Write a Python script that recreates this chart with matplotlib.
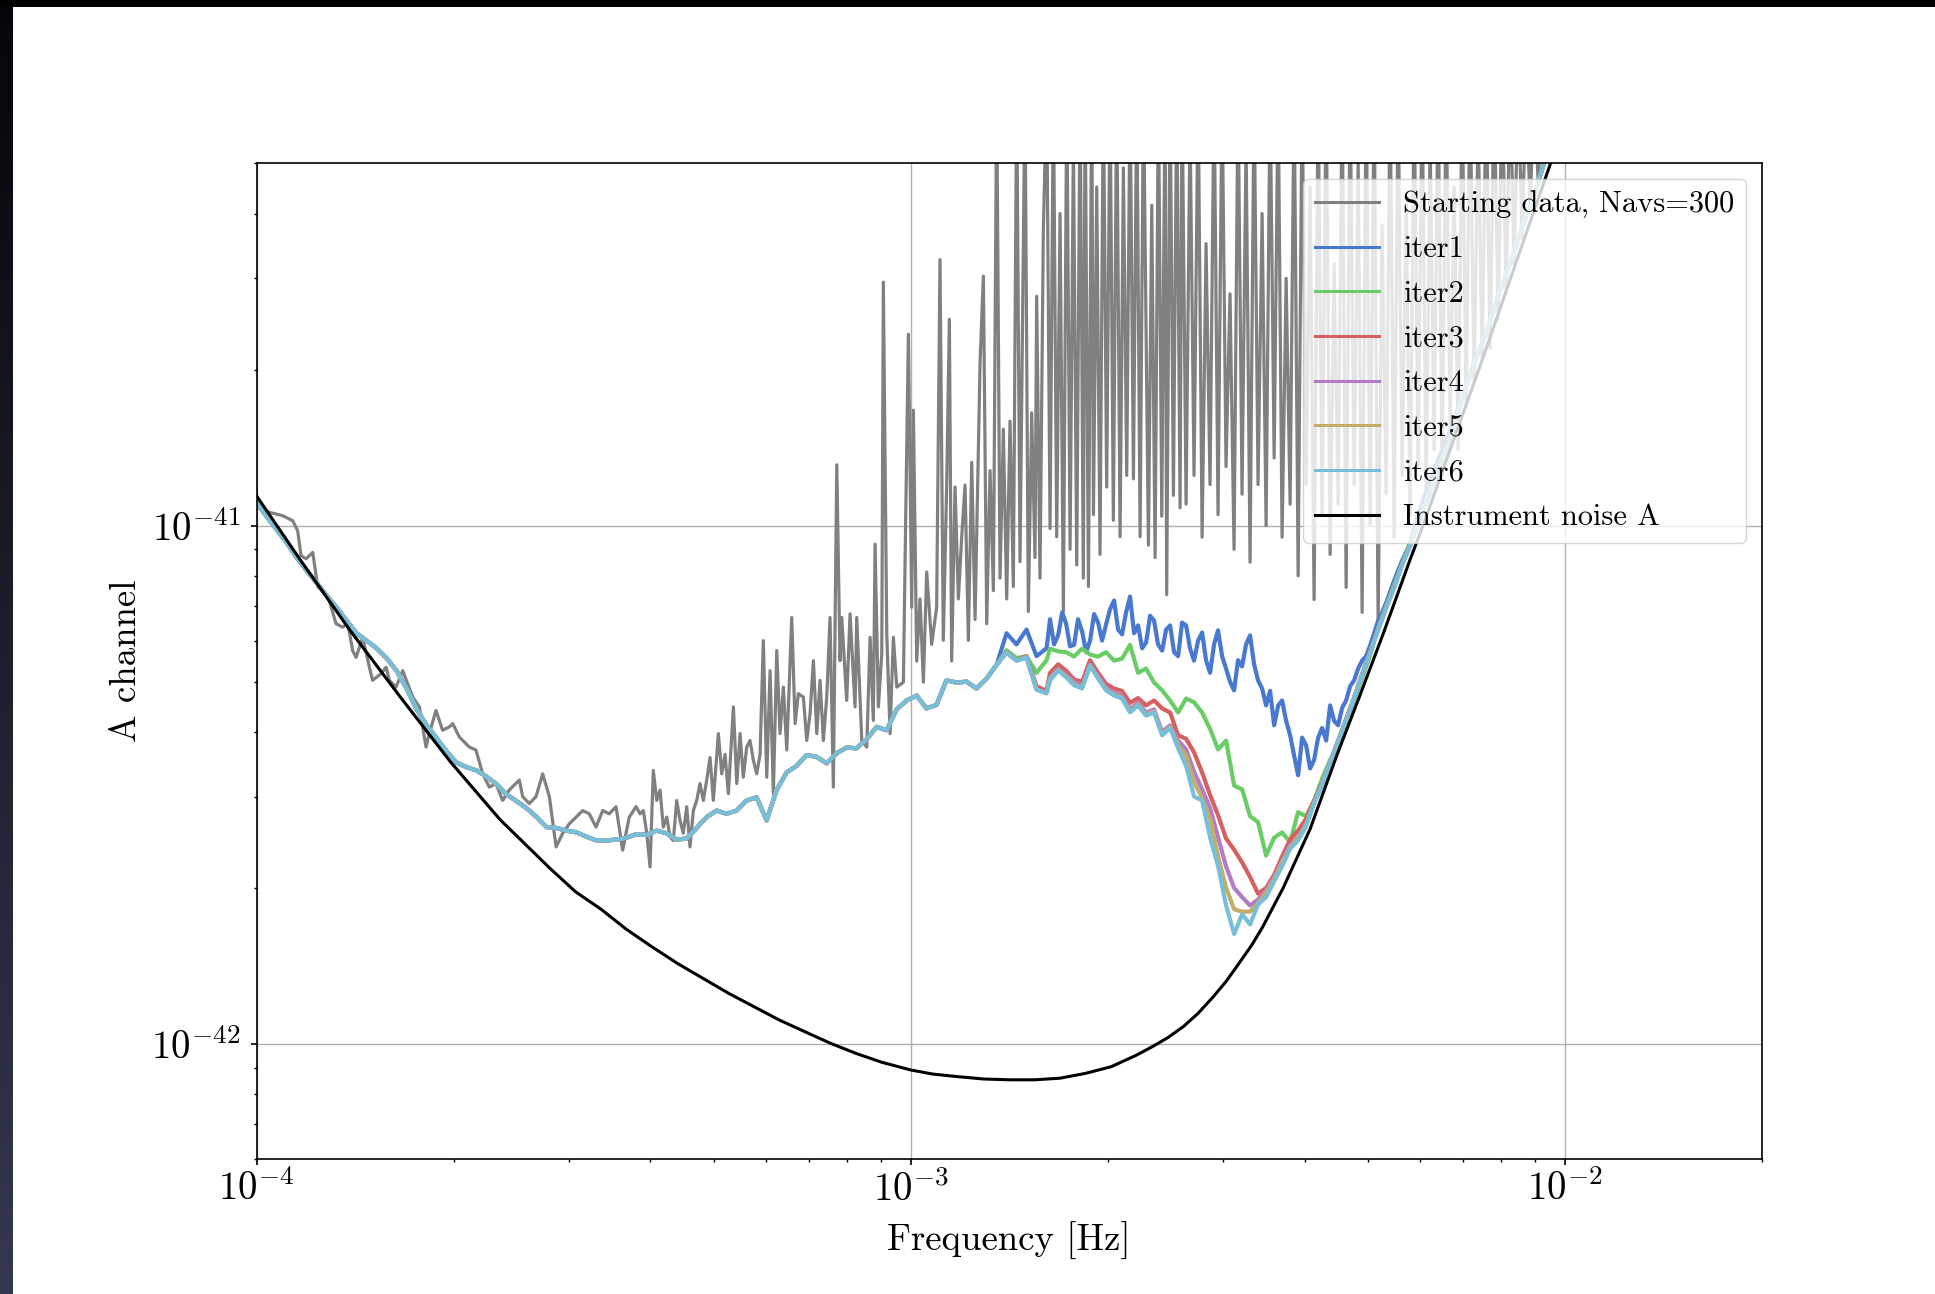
import numpy as np
import matplotlib
matplotlib.use("Agg")
import matplotlib.pyplot as plt
from matplotlib.ticker import FixedLocator, FuncFormatter, NullFormatter
from matplotlib.patches import Rectangle

plt.rcParams['font.family'] = 'serif'
plt.rcParams['font.serif'] = ['cmr10']
plt.rcParams['mathtext.fontset'] = 'cm'
plt.rcParams['axes.formatter.use_mathtext'] = True

PSD_UNIT = 1e-42   # all PSD lists below are in units of 1e-42

# ---------------- Instrument noise A (black) ----------------
noise_f = [1.0e-4, 1.165e-4, 1.389e-4, 1.656e-4, 1.975e-4, 2.355e-4, 2.81e-4, 3.073e-4, 3.36e-4, 3.673e-4,
           4.02e-4, 4.40e-4, 4.81e-4, 5.27e-4, 5.76e-4, 6.30e-4, 6.89e-4, 7.54e-4, 8.25e-4, 9.03e-4,
           1.0e-3, 1.08e-3, 1.18e-3, 1.293e-3, 1.416e-3, 1.547e-3, 1.69e-3, 1.852e-3, 2.025e-3, 2.215e-3,
           2.34e-3, 2.47e-3, 2.61e-3, 2.75e-3, 2.90e-3, 3.034e-3, 3.15e-3, 3.32e-3, 3.45e-3, 3.71e-3,
           4.08e-3, 4.48e-3, 4.86e-3, 5.28e-3, 5.80e-3, 6.07e-3, 7.49e-3, 9.5e-3, 1.1e-2]
noise_S = [11.4, 8.60, 6.28, 4.68, 3.51, 2.71, 2.18, 1.966, 1.82, 1.665,
           1.54, 1.43, 1.339, 1.252, 1.18, 1.112, 1.056, 1.003, 0.959, 0.922,
           0.891, 0.875, 0.865, 0.856, 0.853, 0.853, 0.859, 0.878, 0.904, 0.952,
           0.988, 1.028, 1.08, 1.146, 1.233, 1.32, 1.41, 1.55, 1.68, 2.0,
           2.60, 3.60, 4.70, 6.2, 8.6, 10.0, 21.0, 49.8, 85.0]

# ---------------- Starting data (gray) ----------------
gray_f_a = [1.000, 1.045, 1.096, 1.135, 1.155, 1.169, 1.190, 1.218, 1.240, 1.262,
            1.291, 1.322, 1.353, 1.378, 1.402, 1.419, 1.452, 1.487, 1.504, 1.549,
            1.577, 1.596, 1.633, 1.672, 1.732, 1.773, 1.815, 1.836, 1.880, 1.924,
            1.970, 1.994, 2.041, 2.114, 2.164, 2.216, 2.268, 2.322, 2.377, 2.433,
            2.521, 2.551, 2.611, 2.673, 2.737, 2.802, 2.869, 2.937, 3.006, 3.078,
            3.151, 3.225, 3.302, 3.381, 3.460, 3.543, 3.627, 3.712, 3.802]  # x1e-4 Hz
gray_S_a = [10.85, 10.61, 10.45, 10.22, 9.78, 8.75, 8.63, 8.88, 7.61, 7.49,
            7.17, 6.47, 6.37, 6.47, 5.74, 5.57, 6.09, 5.33, 5.03, 5.18,
            5.33, 5.03, 4.88, 5.25, 4.67, 4.47, 3.74, 3.97, 4.40, 4.03,
            4.09, 4.15, 3.91, 3.74, 3.69, 3.32, 3.13, 3.18, 2.95, 3.09,
            3.23, 3.00, 2.91, 3.00, 3.32, 3.00, 2.40, 2.55, 2.66, 2.74,
            2.82, 2.78, 2.62, 2.82, 2.78, 2.87, 2.365, 2.74, 2.87]

gray_f_b = [3.856, 3.901, 3.948, 3.994, 4.040, 4.089, 4.137, 4.185, 4.236, 4.285,
            4.335, 4.387, 4.438, 4.490, 4.544, 4.597, 4.651, 4.707, 4.762, 4.818,
            4.876, 4.933, 4.991, 5.080, 5.140, 5.201, 5.262, 5.356, 5.420, 5.483,
            5.546, 5.613, 5.679, 5.745, 5.814, 5.883, 5.951, 6.023, 6.094, 6.165,
            6.239, 6.311, 6.386, 6.463, 6.577, 6.655, 6.732, 6.852, 6.934, 7.015,
            7.098, 7.183, 7.266, 7.352, 7.440, 7.526, 7.615, 7.707, 7.796, 7.843,
            7.981, 8.076, 8.219, 8.268, 8.416, 8.565, 8.666, 8.766, 8.819, 8.923,
            9.030, 9.080, 9.190, 9.297, 9.406, 9.519]  # x1e-4 Hz
gray_S_b = [2.78, 2.82, 2.55, 2.196, 3.37, 2.95, 3.09, 2.62, 2.74, 2.51,
            2.47, 2.95, 2.70, 2.55, 2.87, 2.40, 2.82, 2.95, 3.18, 2.95,
            3.23, 3.57, 2.95, 3.97, 3.32, 3.62, 3.04, 4.47, 3.18, 3.97,
            3.27, 3.74, 3.85, 3.53, 3.32, 3.62, 6.00, 3.27, 5.25, 3.04,
            5.74, 3.97, 4.88, 3.69, 6.65, 4.15, 4.74, 4.67, 3.85, 4.33,
            5.49, 3.97, 5.03, 3.85, 4.67, 6.65, 3.13, 13.1, 5.49, 6.65,
            4.60, 6.76, 4.47, 6.65, 3.85, 3.74, 6.09, 4.21, 9.21, 4.47,
            5.66, 29.5, 6.19, 3.97, 6.09, 4.88]

gray_f_c = [0.9744, 0.9802, 0.9917, 1.0034, 1.0093, 1.0212, 1.0332, 1.0454, 1.0577, 1.0764,
            1.0955, 1.1084, 1.1215, 1.1350, 1.1456, 1.1550, 1.1687, 1.1825, 1.1965, 1.2106,
            1.2249, 1.2394, 1.2540, 1.2763, 1.2913, 1.3066, 1.3220, 1.3376, 1.3533, 1.3693,
            1.3854, 1.4017, 1.4183, 1.4350, 1.4520, 1.4691, 1.4951, 1.5128, 1.5307, 1.5487,
            1.5578, 1.5762, 1.5948, 1.6136, 1.6330, 1.6522, 1.6717, 1.6915, 1.7114, 1.7320,
            1.7522, 1.7729, 1.7938, 1.8150, 1.8360, 1.8474, 1.8691, 1.8912, 1.9024, 1.9248,
            1.9470, 1.9700, 1.9933, 2.0168, 2.0406, 2.0650, 2.0894, 2.1140, 2.1390, 2.1642,
            2.1900, 2.2159, 2.2421, 2.2685, 2.3088, 2.3360, 2.3636, 2.3915, 2.4197, 2.4482,
            2.4620, 2.4917, 2.5211, 2.5508, 2.5808]  # x1e-3 Hz
gray_S_c = [4.99, 8.52, 23.4, 6.96, 16.7, 5.48, 7.22, 4.99, 8.14, 5.90,
            6.96, 32.6, 6.01, 12.09, 25.0, 5.48, 11.87, 7.22, 9.52, 11.98,
            6.01, 13.25, 6.59, 20.6, 30.3, 6.47, 12.77, 7.49, 70.0, 7.92,
            15.35, 7.22, 15.9, 7.63, 70.0, 8.52, 70.0, 6.83, 16.5, 8.68,
            27.7, 7.92, 37.1, 70.0, 9.87, 70.0, 9.52, 40.0, 6.83, 70.0,
            9.0, 55.0, 8.4, 70.0, 7.92, 70.0, 7.63, 70.0, 10.5, 45.0,
            8.8, 70.0, 11.87, 70.0, 10.24, 70.0, 9.52, 49.0, 12.5, 70.0,
            12.31, 70.0, 9.52, 70.0, 9.17, 41.5, 8.68, 70.0, 10.43, 70.0,
            7.36, 70.0, 11.44, 70.0, 10.82]

gray_f_d = [2.599, 2.636, 2.673, 2.711, 2.750, 2.789, 2.828, 2.868, 2.909, 2.950,
            2.992, 3.034, 3.077, 3.121, 3.165, 3.210, 3.256, 3.302, 3.349, 3.396,
            3.445, 3.494, 3.543, 3.594, 3.645, 3.696, 3.749, 3.802, 3.856, 3.911,
            3.966, 4.022, 4.079, 4.137, 4.196, 4.255, 4.316, 4.377, 4.439, 4.502,
            4.566, 4.631, 4.696, 4.763, 4.831, 4.899, 4.969, 5.039, 5.111, 5.183,
            5.256, 5.331, 5.406, 5.483, 5.561, 5.640, 5.720, 5.801, 5.883, 5.966,
            6.051, 6.137, 6.224, 6.312, 6.402, 6.493, 6.585, 6.678, 6.773, 6.869,
            6.966, 7.065, 7.165, 7.267, 7.370, 7.475, 7.580, 7.688, 7.797, 7.908,
            8.020, 8.134, 8.249, 8.366, 8.485, 8.605, 8.727, 8.851, 8.977, 9.104,
            9.233, 9.364]  # x1e-3 Hz
gray_S_d = [70, 11, 60, 12.5, 70, 9.5, 35, 12, 70, 10.5,
            70, 13, 28, 9, 70, 11.5, 55, 8.5, 70, 12,
            40, 10, 70, 13.5, 70, 9.5, 30, 11, 70, 8,
            70, 12, 45, 7.2, 70, 10.5, 70, 8.8, 32, 11,
            70, 7.6, 70, 12, 50, 6.8, 70, 10, 70, 6.5,
            38, 11.5, 70, 9.5, 70, 12.5, 42, 10.5, 70, 13,
            70, 11.5, 55, 14, 70, 12.5, 70, 15.5, 45, 14,
            70, 17, 70, 19, 60, 21, 70, 22, 70, 25,
            70, 28, 70, 32, 70, 36, 70, 41, 70, 46,
            70, 55]

# ---------------- Iterations ----------------
freq_lo = [1.000, 1.036, 1.073, 1.111, 1.151, 1.192, 1.235, 1.279, 1.325, 1.372,
           1.421, 1.472, 1.525, 1.580, 1.636, 1.695, 1.756, 1.819, 1.884, 1.951,
           2.021, 2.094, 2.169, 2.246, 2.327, 2.410, 2.497, 2.586, 2.679, 2.775,
           2.874, 2.977, 3.084, 3.194, 3.309, 3.427, 3.550, 3.677, 3.809, 3.946,
           4.087, 4.233, 4.385, 4.542, 4.705, 4.874, 5.048, 5.229, 5.417, 5.611,
           5.812, 6.020, 6.236, 6.459, 6.691, 6.930, 7.179, 7.436, 7.703, 7.979,
           8.265, 8.561, 8.868, 9.185, 9.514, 9.855, 10.21, 10.57, 10.95, 11.34,
           11.75, 12.17, 12.61, 13.06, 13.53, 14.01, 14.51, 15.03, 15.57, 16.13]  # x1e-4 Hz
iter_low = [11.07, 10.41, 9.82, 9.27, 8.68, 8.19, 7.76, 7.33, 6.95, 6.56,
            6.20, 6.00, 5.80, 5.55, 5.25, 4.85, 4.42, 4.12, 3.89, 3.67,
            3.49, 3.42, 3.37, 3.28, 3.17, 3.03, 2.94, 2.85, 2.74, 2.62,
            2.61, 2.58, 2.56, 2.51, 2.47, 2.47, 2.48, 2.50, 2.54, 2.53,
            2.58, 2.55, 2.48, 2.49, 2.61, 2.74, 2.82, 2.78, 2.82, 2.95,
            2.99, 2.70, 3.09, 3.34, 3.44, 3.61, 3.58, 3.48, 3.64, 3.73,
            3.72, 3.87, 4.09, 4.03, 4.42, 4.60, 4.70, 4.44, 4.51, 5.03,
            4.98, 5.00, 4.85, 5.07, 5.39, 5.69, 5.49, 5.57, 4.83, 4.75]
iter1_knee = [6.2, 5.9, 6.3, 5.6, 5.8]
iter2_knee = [5.75, 5.55, 5.6, 5.2, 5.5]
iter3_knee = [5.7, 5.5, 5.6, 4.9, 4.8]

# 8-px grid (iter2..iter6) in the 1.6e-3 .. 6.7e-3 Hz range
freq_mid = [1.633, 1.680, 1.728, 1.777, 1.828, 1.880, 1.934, 1.989, 2.046, 2.104,
            2.164, 2.226, 2.290, 2.355, 2.423, 2.492, 2.563, 2.636, 2.712, 2.789,
            2.869, 2.951, 3.035, 3.122, 3.211, 3.302, 3.396, 3.494, 3.594, 3.696,
            3.802, 3.910, 4.022, 4.137, 4.255, 4.377, 4.502, 4.630, 4.763, 4.898,
            5.039, 5.182, 5.330, 5.483, 5.639, 5.800, 5.966, 6.136, 6.312, 6.492,
            6.678]  # x1e-3 Hz
# finer grid for iter1 (first part; continues with gray_f_d[:68])
freq_fine_a = [1.633, 1.656, 1.680, 1.704, 1.728, 1.752, 1.777, 1.802, 1.828, 1.854,
               1.880, 1.907, 1.934, 1.961, 1.989, 2.017, 2.046, 2.075, 2.104, 2.134,
               2.164, 2.195, 2.226, 2.258, 2.290, 2.322, 2.355, 2.388, 2.423, 2.457,
               2.492, 2.527, 2.563]  # x1e-3 Hz
iter1_mid = [6.6, 5.9, 6.14, 6.8, 6.47, 5.85, 5.89, 6.6, 6.25, 5.7,
             6.0, 6.75, 6.5, 6.0, 6.45, 6.9, 7.17, 6.3, 6.17, 6.8,
             7.3, 6.2, 6.42, 5.8, 5.95, 6.7, 6.56, 5.9, 5.74, 6.3,
             6.42, 5.7, 5.6, 6.5, 6.42, 5.8, 5.49, 6.0, 6.22, 5.5,
             5.20, 5.9, 6.28, 5.6, 5.30, 5.0, 4.81, 5.5, 5.35, 5.9,
             6.14, 5.4, 5.03, 4.85, 4.50, 4.8, 4.12, 4.5, 4.60, 4.2,
             3.94, 3.6, 3.30, 3.9, 3.77, 3.4, 3.53, 3.9, 4.07, 3.85,
             4.50, 4.2, 4.12, 4.45, 4.60, 4.9, 5.03, 5.3, 5.49, 5.6,
             5.87, 6.2, 6.56, 6.8, 7.1, 7.45, 7.83, 8.2, 8.56, 8.9,
             9.15, 9.9, 10.5, 11.0, 11.6, 12.2, 12.8, 13.4, 14.0, 14.6,
             15.3]
iter2_mid = [5.79, 5.72, 5.70, 5.59, 5.79, 5.64, 5.59, 5.70, 5.49, 5.54,
             5.89, 5.20, 5.30, 4.98, 4.81, 4.60, 4.36, 4.64, 4.56, 4.36,
             4.05, 3.70, 3.85, 3.15, 3.10, 2.75, 2.68, 2.31, 2.50, 2.56,
             2.45, 2.80, 2.75, 2.95, 3.25, 3.53, 3.77, 4.17, 4.60, 5.07,
             5.62, 6.35, 7.0, 7.7, 8.45, 9.3, 10.2, 11.2, 12.3, 13.5,
             14.8]
iter3_mid = [5.2, 5.4, 5.25, 5.05, 5.0, 5.5, 5.2, 4.95, 4.85, 4.8,
             4.55, 4.65, 4.5, 4.60, 4.44, 4.36, 3.94, 3.88, 3.65, 3.34,
             3.02, 2.76, 2.49, 2.37, 2.24, 2.10, 1.95, 2.0, 2.12, 2.3,
             2.48, 2.58, 2.72, 2.95, 3.18, 3.5, 3.85, 4.23, 4.66, 5.17,
             5.72, 6.32, 6.97, 7.63, 8.45, 9.2, 10.1, 11.1, 12.2, 13.3,
             14.6]
iter4_mid = [5.1, 5.3, 5.15, 5.0, 4.9, 5.4, 5.12, 4.87, 4.76, 4.7,
             4.42, 4.56, 4.36, 4.42, 4.0, 4.12, 3.85, 3.7, 3.35, 3.1,
             2.85, 2.5, 2.2, 2.0, 1.92, 1.85, 1.9, 1.98, 2.1, 2.26,
             2.42, 2.5, 2.66, 2.93, 3.17, 3.5, 3.84, 4.23, 4.66, 5.16,
             5.71, 6.3, 6.95, 7.61, 8.42, 9.17, 10.07, 11.06, 12.12, 13.27,
             14.52]
iter5_mid = [5.06, 5.27, 5.12, 4.95, 4.87, 5.38, 5.09, 4.83, 4.72, 4.66,
             4.38, 4.52, 4.32, 4.38, 3.96, 4.09, 3.78, 3.6, 3.2, 2.98,
             2.72, 2.3, 2.0, 1.82, 1.8, 1.8, 1.87, 1.96, 2.08, 2.24,
             2.40, 2.49, 2.65, 2.92, 3.16, 3.5, 3.83, 4.22, 4.65, 5.15,
             5.7, 6.29, 6.94, 7.6, 8.41, 9.16, 10.06, 11.05, 12.11, 13.26,
             14.51]
iter6_mid = [5.03, 5.25, 5.10, 4.92, 4.85, 5.37, 5.07, 4.81, 4.70, 4.64,
             4.36, 4.50, 4.30, 4.36, 3.94, 4.07, 3.72, 3.44, 3.0, 2.95,
             2.5, 2.2, 1.85, 1.63, 1.78, 1.70, 1.86, 1.92, 2.06, 2.2,
             2.38, 2.47, 2.63, 2.91, 3.15, 3.49, 3.82, 4.21, 4.64, 5.14,
             5.69, 6.28, 6.93, 7.59, 8.40, 9.15, 10.05, 11.04, 12.1, 13.25,
             14.5]

freq_hi = [6.966, 7.266, 7.580, 7.907, 8.248, 8.603, 8.975, 9.363, 9.768, 10.19]  # x1e-3 Hz
iter_high = [17.6, 20.6, 23.5, 27.8, 32.0, 37.6, 43.5, 51.5, 60.0, 70.0]

labels = ["Starting data, Navs=300", "iter1", "iter2", "iter3", "iter4", "iter5", "iter6",
          "Instrument noise A"]
colors = ["#808080", "#4878CF", "#6ACC65", "#D65F5F", "#B47CC7", "#C4AD66", "#77BEDB", "black"]

x_major = [1e-4, 1e-3, 1e-2]
y_major = [1e-42, 1e-41]

# ---------------- assemble ----------------
gray_f = np.concatenate([np.array(gray_f_a) * 1e-4, np.array(gray_f_b) * 1e-4,
                         np.array(gray_f_c) * 1e-3, np.array(gray_f_d) * 1e-3])
gray_S = np.concatenate([gray_S_a, gray_S_b, gray_S_c, gray_S_d]) * PSD_UNIT

f_lo = np.array(freq_lo) * 1e-4
f_hi = np.array(freq_hi) * 1e-3
f_mid = np.array(freq_mid) * 1e-3
f_fine = np.concatenate([freq_fine_a, gray_f_d[:68]]) * 1e-3

series = []
series.append((np.concatenate([f_lo, f_fine, f_hi]),
               np.concatenate([iter_low[:75], iter1_knee, iter1_mid, iter_high]) * PSD_UNIT))
knees = [iter2_knee, iter3_knee, iter_low[75:], iter_low[75:], iter_low[75:]]
mids = [iter2_mid, iter3_mid, iter4_mid, iter5_mid, iter6_mid]
for k, m in zip(knees, mids):
    series.append((np.concatenate([f_lo, f_mid, f_hi]),
                   np.concatenate([iter_low[:75], k, m, iter_high]) * PSD_UNIT))

# ---------------- figure ----------------
W, H = 1935, 1294
fig = plt.figure(figsize=(W / 100, H / 100), dpi=100)
fig.patch.set_facecolor('white')

# screenshot frame: dark strip on the left, black bar on top
t = np.linspace(0, 1, H).reshape(-1, 1, 1)
c0 = np.array([5, 5, 9]) / 255.0
c1 = np.array([52, 56, 79]) / 255.0
strip = (c0 + (c1 - c0) * t) * np.ones((1, 13, 1))
fig.figimage(strip, xo=0, yo=0, origin='upper', zorder=5)
fig.patches.append(Rectangle((0, 1 - 7 / H), 1, 7 / H, transform=fig.transFigure,
                             facecolor='black', edgecolor='none', zorder=10))

ax = fig.add_axes([256.7 / W, (H - 1159) / H, (1761.7 - 256.7) / W, (1159 - 163.3) / H])

ax.plot(gray_f, gray_S, color=colors[0], lw=2.3, label=labels[0])
for i, (fx, sy) in enumerate(series):
    ax.plot(fx, sy, color=colors[i + 1], lw=3.0, label=labels[i + 1])
ax.plot(noise_f, np.array(noise_S) * PSD_UNIT, color=colors[7], lw=2.2, label=labels[7])

ax.set_xscale('log')
ax.set_yscale('log')
ax.set_xlim(1e-4, 2e-2)
ax.set_ylim(6e-43, 5e-41)

x_minor = [m * d for d in (1e-4, 1e-3) for m in range(2, 10)] + [2e-2]
y_minor = [m * 1e-43 for m in (6, 7, 8, 9)] + [m * d for d in (1e-42, 1e-41) for m in range(2, 10)
                                               if m * d <= 5e-41]
fmt = FuncFormatter(lambda v, p: r'$10^{%d}$' % int(round(np.log10(v))))
ax.xaxis.set_major_locator(FixedLocator(x_major))
ax.yaxis.set_major_locator(FixedLocator(y_major))
ax.xaxis.set_minor_locator(FixedLocator(x_minor))
ax.yaxis.set_minor_locator(FixedLocator(y_minor))
ax.xaxis.set_major_formatter(fmt)
ax.yaxis.set_major_formatter(fmt)
ax.xaxis.set_minor_formatter(NullFormatter())
ax.yaxis.set_minor_formatter(NullFormatter())

ax.tick_params(which='major', length=4.3, width=1.2, labelsize=28)
ax.tick_params(axis='x', which='major', pad=4)
ax.tick_params(axis='y', which='major', pad=7)
ax.tick_params(which='minor', length=2.5, width=1.0)
for s in ax.spines.values():
    s.set_linewidth(1.2)
ax.grid(True, which='major', color='#b0b0b0', lw=1.0)

ax.set_xlabel('Frequency [Hz]', fontsize=26.5, labelpad=9.5)
ax.set_ylabel('A channel', fontsize=26.5, labelpad=6)

leg = ax.legend(loc='upper right', fontsize=21.9, framealpha=0.8, edgecolor='0.8',
                fancybox=True, handlelength=2.1, labelspacing=0.55)
for h in leg.legend_handles:
    h.set_linewidth(2.2)

fig.savefig('out.png', dpi=100)
